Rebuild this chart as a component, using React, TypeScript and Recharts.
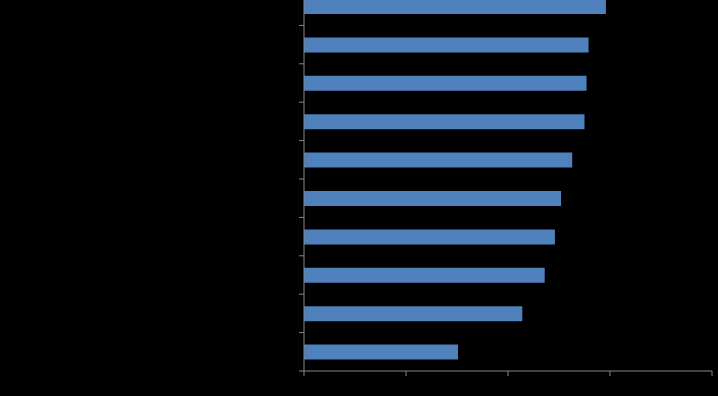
import { BarChart, Bar, XAxis, YAxis } from "recharts";

const categories = ["Item A", "Item B", "Item C", "Item D", "Item E", "Item F", "Item G", "Item H", "Item I", "Item J"];
const values = [2.96, 2.79, 2.77, 2.75, 2.63, 2.52, 2.46, 2.36, 2.14, 1.51];
const xTicks = [0, 1, 2, 3, 4];

const data = categories.map((name, i) => ({ name, value: values[i] }));

const W = 718;
const H = 409;
const PLOT_H = 384;
const BAND = PLOT_H / categories.length;
const AXIS = "#868686";
const TICK_SIZE = 6;
const TICK_MARGIN = 2;

// category ticks sit on the band boundaries, not the centers
function BoundaryTick(props: any) {
  const { x, y, payload } = props;
  const axisX = x + TICK_SIZE + TICK_MARGIN;
  const yy = y + BAND / 2;
  return (
    <g>
      <line x1={axisX - 5} x2={axisX} y1={yy} y2={yy} stroke={AXIS} strokeWidth={1} />
      <text x={x} y={y} dy={4} textAnchor="end" fill="#000" fontSize={12}>
        {payload.value}
      </text>
    </g>
  );
}

export default function App() {
  return (
    <div style={{ position: "fixed", left: 0, top: 0, width: W, height: 396, background: "#000", overflow: "hidden" }}>
      <div style={{ position: "absolute", left: 0, top: -13 }}>
        <BarChart
          width={W}
          height={H}
          data={data}
          layout="vertical"
          margin={{ top: 0, right: 6, bottom: 0, left: 0 }}
          style={{ fontFamily: "Liberation Sans, Arial, sans-serif" }}
        >
          <XAxis
            type="number"
            domain={[0, 4]}
            ticks={xTicks}
            height={25}
            axisLine={{ stroke: AXIS }}
            tickLine={{ stroke: AXIS }}
            tickSize={5}
            tick={{ fill: "#000", fontSize: 12 }}
          />
          <YAxis
            type="category"
            dataKey="name"
            width={304}
            axisLine={{ stroke: AXIS }}
            tickLine={false}
            tickSize={TICK_SIZE}
            tickMargin={TICK_MARGIN}
            tick={<BoundaryTick />}
          />
          <Bar dataKey="value" fill="#4F81BD" barSize={15} isAnimationActive={false} />
        </BarChart>
      </div>
    </div>
  );
}
